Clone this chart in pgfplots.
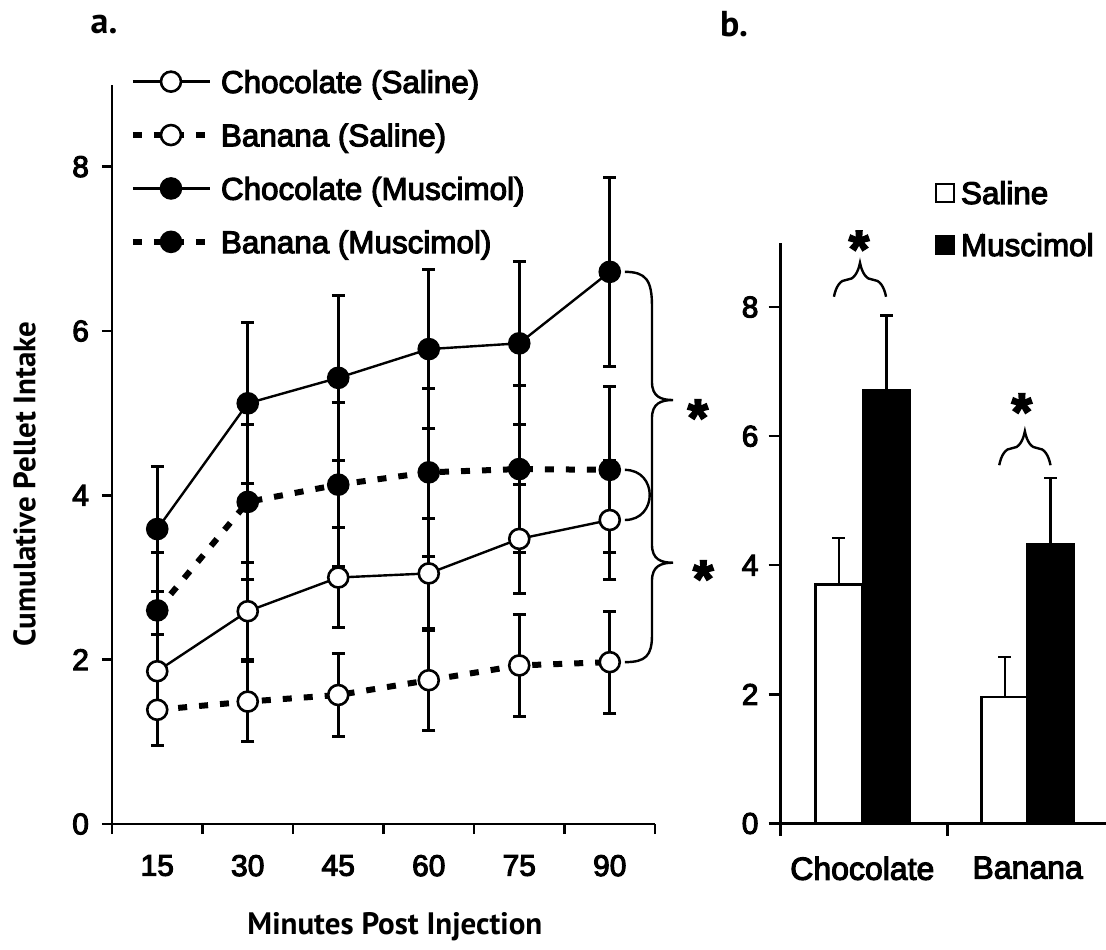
\documentclass[border=0pt]{standalone}
\usepackage{fontspec}
\usepackage{pgfplots}
\usepackage{pgfplotstable}
\pgfplotsset{compat=1.18}
\usetikzlibrary{decorations.pathreplacing}
\setmainfont{Liberation Sans}
\newfontfamily\hv{Liberation Sans}[FakeBold=3.5]
\newfontfamily\lab{PT Sans}

\pgfplotstableread{
x y e
15 1.86 0.45
30 2.59 0.59
45 3.00 0.61
60 3.05 0.67
75 3.47 0.66
90 3.70 0.73
}\csal
\pgfplotstableread{
x y e
15 1.39 0.44
30 1.49 0.49
45 1.57 0.50
60 1.75 0.61
75 1.93 0.62
90 1.97 0.62
}\bsal
\pgfplotstableread{
x y e
15 3.59 0.76
30 5.12 0.98
45 5.43 1.00
60 5.78 0.97
75 5.85 0.99
90 6.72 1.15
}\cmus
\pgfplotstableread{
x y e
15 2.60 0.70
30 3.92 0.94
45 4.13 1.00
60 4.28 1.02
75 4.32 1.02
90 4.31 1.01
}\bmus
\pgfplotstableread{
x y e
0.350 3.70 0.72
1.344 1.96 0.62
}\barsal
\pgfplotstableread{
x y e
0.635 6.72 1.15
1.617 4.33 1.02
}\barmus

\pgfplotsset{
  errstyle/.style={only marks, mark=none, forget plot,
    error bars/.cd, y dir=both, y explicit,
    error bar style={line width=1.5pt, black},
    error mark options={rotate=90, line width=1.5pt, mark size=3.25pt, black}},
  tick label style={font=\hv\fontsize{15}{18}\selectfont},
  /pgf/number format/assume math mode=true,
}
\newcommand{\starf}{\hv\bfseries\fontsize{26}{26}\selectfont}

\begin{document}
\begin{tikzpicture}
\path[use as bounding box] (0,0) rectangle (553pt,474.5pt);

\node[font=\lab\bfseries\fontsize{18}{20}\selectfont] at (52pt,462pt) {a.};
\node[font=\lab\bfseries\fontsize{18}{20}\selectfont] at (367pt,462.5pt) {b.};

% ---------------- panel a ----------------
\begin{axis}[
  at={(56pt,62.5pt)}, anchor=south west,
  scale only axis, width=271.5pt, height=369.75pt,
  xmin=7.5, xmax=97.5, ymin=0, ymax=9,
  axis lines*=left,
  axis line style={line width=1.2pt},
  clip=false,
  tick align=outside,
  major tick length=5pt,
  tick style={line width=1.2pt, black},
  xtick={7.5,22.5,...,97.5},
  xticklabels={},
  extra x ticks={15,30,45,60,75,90},
  extra x tick labels={15,30,45,60,75,90},
  extra x tick style={major tick length=0pt},
  ytick={0,2,4,6,8},
  xticklabel style={yshift=-12pt},
  yticklabel style={xshift=-3pt},
  xlabel={Minutes Post Injection},
  ylabel={Cumulative Pellet Intake},
  label style={font=\lab\bfseries\fontsize{15.5}{18}\selectfont},
  xlabel style={at={(axis description cs:0.521,-0.150)}, anchor=base},
  ylabel style={at={(axis description cs:-0.141,0.46)}, anchor=base},
  legend image code/.code={\draw[mark repeat=2,mark phase=2,#1] plot coordinates {(0pt,0pt) (19pt,0pt) (38.5pt,0pt)};},
  legend cell align=left,
  legend style={at={(axis description cs:0.0331,1.040)}, anchor=north west,
    draw=none, fill=none, inner xsep=0pt, inner ysep=0pt, outer sep=0pt,
    column sep=4pt, row sep=0pt,
    font=\hv\fontsize{15.7}{18}\selectfont,
    nodes={inner sep=0pt, text height=19pt, text depth=7.7pt}},
]
\addplot[errstyle] table[x=x, y=y, y error=e] {\csal};
\addplot[errstyle] table[x=x, y=y, y error=e] {\bsal};
\addplot[errstyle] table[x=x, y=y, y error=e] {\cmus};
\addplot[errstyle] table[x=x, y=y, y error=e] {\bmus};

\addplot[black, line width=1.2pt, mark=*, mark size=5pt,
  mark options={solid, fill=white, draw=black, line width=1.3pt}]
  table[x=x, y=y] {\csal};
\addlegendentry{Chocolate (Saline)}
\addplot[black, line width=3pt, dash pattern=on 4.5pt off 6pt, mark=*, mark size=5pt,
  mark options={solid, fill=white, draw=black, line width=1.3pt}]
  table[x=x, y=y] {\bsal};
\addlegendentry{Banana (Saline)}
\addplot[black, line width=1.2pt, mark=*, mark size=5pt,
  mark options={solid, fill=black, draw=black, line width=1.3pt}]
  table[x=x, y=y] {\cmus};
\addlegendentry{Chocolate (Muscimol)}
\addplot[black, line width=3pt, dash pattern=on 4.5pt off 6pt, mark=*, mark size=5pt,
  mark options={solid, fill=black, draw=black, line width=1.3pt}]
  table[x=x, y=y] {\bmus};
\addlegendentry{Banana (Muscimol)}

% braces
\draw[line width=1.2pt] (axis cs:92.5,6.72) .. controls (axis cs:96,6.72) and (axis cs:97,6.62) .. (axis cs:97,6.3)
  -- (axis cs:97,5.38) .. controls (axis cs:97,5.2) and (axis cs:98.5,5.16) .. (axis cs:100.5,5.16)
  .. controls (axis cs:98.5,5.16) and (axis cs:97,5.12) .. (axis cs:97,4.94)
  -- (axis cs:97,3.40) .. controls (axis cs:97,3.22) and (axis cs:98.5,3.18) .. (axis cs:100.5,3.18)
  .. controls (axis cs:98.5,3.18) and (axis cs:97,3.14) .. (axis cs:97,2.96)
  -- (axis cs:97,2.3) .. controls (axis cs:97,2.05) and (axis cs:96,1.97) .. (axis cs:92.5,1.97);
\draw[line width=1.2pt] (axis cs:92.5,4.31) .. controls (axis cs:98,4.31) and (axis cs:98,3.70) .. (axis cs:92.5,3.70);
\node[font=\starf, inner sep=0pt, yshift=-5.5pt] at (axis cs:104.6,5.08) {*};
\node[font=\starf, inner sep=0pt, yshift=-5.5pt] at (axis cs:105.5,3.12) {*};
\end{axis}

% ---------------- panel b ----------------
\begin{axis}[
  at={(390.25pt,62.75pt)}, anchor=south west,
  scale only axis, width=162.8pt, height=290.5pt,
  xmin=0, xmax=1.95, ymin=0, ymax=9,
  axis lines*=left,
  axis line style={line width=1.2pt},
  clip=false,
  tick align=outside,
  major tick length=6pt,
  tick style={line width=1.2pt, black},
  xtick={0,1},
  xticklabels={},
  extra x ticks={0.49,1.48},
  extra x tick labels={Chocolate,Banana},
  extra x tick style={major tick length=0pt},
  xticklabel style={yshift=-13pt, font=\hv\fontsize{16}{18}\selectfont},
  ytick={0,2,4,6,8},
  yticklabel style={xshift=-1.5pt},
  ybar, bar width=23.5pt, bar shift=0pt,
  legend image code/.code={\draw[#1, line width=1pt] (0pt,-4.5pt) rectangle (9pt,4.5pt);},
  legend cell align=left,
  legend style={at={(axis description cs:0.4745,1.130)}, anchor=north west,
    draw=none, fill=none, inner xsep=0pt, inner ysep=0pt, outer sep=0pt,
    column sep=3pt, row sep=0pt,
    font=\hv\fontsize{15.7}{18}\selectfont,
    nodes={inner sep=0pt, text height=18.5pt, text depth=7.5pt}},
]
\addplot[fill=white, draw=black, line width=1.2pt,
  error bars/.cd, y dir=plus, y explicit,
  error bar style={line width=1.3pt, black},
  error mark options={rotate=90, line width=1.3pt, mark size=3.25pt, black}]
  table[x=x, y=y, y error=e] {\barsal};
\addlegendentry{Saline}
\addplot[fill=black, draw=black, line width=1.2pt,
  error bars/.cd, y dir=plus, y explicit,
  error bar style={line width=1.3pt, black},
  error mark options={rotate=90, line width=1.3pt, mark size=3.25pt, black}]
  table[x=x, y=y, y error=e] {\barmus};
\addlegendentry{Muscimol}

\draw[line width=1.2pt, decorate, decoration={brace, amplitude=17pt}] (axis cs:0.32,8.16) -- (axis cs:0.632,8.16);
\draw[line width=1.2pt, decorate, decoration={brace, amplitude=17pt}] (axis cs:1.31,5.55) -- (axis cs:1.617,5.55);
\node[font=\starf, inner sep=0pt, yshift=-5.5pt] at (axis cs:0.47,9.07) {*};
\node[font=\starf, inner sep=0pt, yshift=-5.5pt] at (axis cs:1.445,6.55) {*};
\end{axis}
\end{tikzpicture}
\end{document}
